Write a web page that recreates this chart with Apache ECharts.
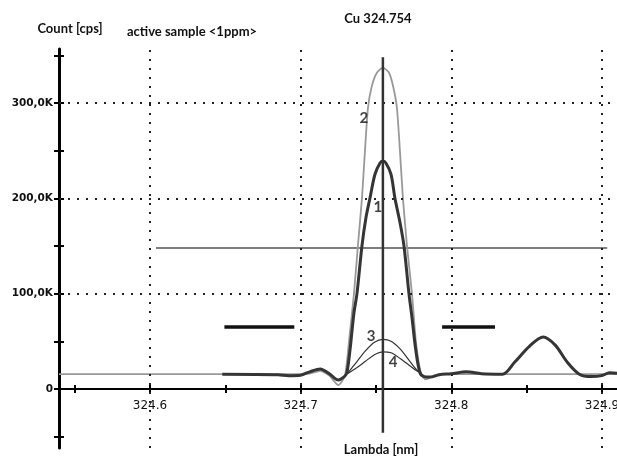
<!DOCTYPE html>
<html>
<head>
<meta charset="utf-8">
<script src="https://cdn.jsdelivr.net/npm/echarts@6/dist/echarts.min.js"></script>
<style>html,body{margin:0;padding:0;background:#fff}#c{width:617px;height:456px}</style>
</head>
<body>
<div id="c"></div>
<script>
// ---- data (x in nm, y in kcps) ----
var xMin = 324.5396, xMax = 324.91;
var yMin = -61900, yMax = 356600;
var xTickValues = [324.55, 324.6, 324.65, 324.7, 324.75, 324.8, 324.85, 324.9];
var xLabelValues = [324.6, 324.7, 324.8, 324.9];
var yTickValues = [-50000, 0, 50000, 100000, 150000, 200000, 250000, 300000, 350000];
var yLabelValues = [0, 100000, 200000, 300000];
var xGridValues = [324.6, 324.7, 324.8, 324.9];
var yGridValues = [100000, 200000, 300000];

// curve 1 (thick dark)
var curve1 = [[324.648,15.5],[324.685,15],[324.692,14],[324.700,14.5],[324.706,18],[324.713,21],[324.719,16],[324.725,9.5],[324.7290,13],[324.7307,17],[324.7327,40],[324.7354,80],[324.7374,100],[324.7407,150],[324.7434,180],[324.7460,200],[324.7493,225],[324.7527,237],[324.7546,239],[324.7566,237],[324.7600,225],[324.7626,200],[324.7659,175],[324.7686,150],[324.7719,100],[324.7739,75],[324.7765,40],[324.7792,17],[324.782,13],[324.786,12.5],[324.792,15],[324.800,16],[324.810,18],[324.820,16],[324.834,15.5],[324.842,28],[324.852,45],[324.861,54.5],[324.869,46],[324.877,28],[324.885,15.5],[324.893,13],[324.900,14],[324.905,17],[324.910,16.5]];
// curve 2 (light gray, tallest)
var curve2 = [[324.5396,15.5],[324.700,15.5],[324.706,16],[324.713,19],[324.719,14],[324.725,4],[324.7294,14],[324.7321,50],[324.7354,100],[324.7380,150],[324.7407,200],[324.7427,250],[324.7447,295],[324.7473,318],[324.7507,332],[324.7546,337],[324.7586,332],[324.7613,318],[324.7639,295],[324.7659,250],[324.7679,200],[324.7706,150],[324.7739,100],[324.7765,50],[324.7799,16],[324.783,10],[324.787,13],[324.792,15.5],[324.910,15.5]];
// curves 3 and 4 (thin)
var curve3 = [[324.731,16],[324.737,28],[324.743,40],[324.749,49],[324.7546,52],[324.760,50],[324.766,42],[324.772,30],[324.777,20],[324.7805,16]];
var curve4 = [[324.731,16],[324.737,22],[324.743,29],[324.749,36],[324.7546,39],[324.760,38],[324.766,32],[324.772,25],[324.777,19],[324.7805,16]];
// reference lines
var limitLine = [[324.604,148],[324.9035,148]];
var bgWindow1 = [[324.6494,65],[324.6958,65]];
var bgWindow2 = [[324.7939,65],[324.829,65]];
var peakMarker = [[324.7546,-46],[324.7546,348]];
// curve numbers
var curveLabels = [['1',324.7513,191],['2',324.742,284],['3',324.7467,55.6],['4',324.7613,28.3]];
var titles = {y: 'Count [cps]', sample: 'active sample <1ppm>', line: 'Cu 324.754', x: 'Lambda [nm]'};

function k(arr){ return arr.map(function(p){ return [p[0], p[1]*1000]; }); }

var chart = echarts.init(document.getElementById('c'), null, {renderer: 'canvas'});
var dotted = {color: '#222', width: 2, type: [2, 7]};

function lineSeries(data, color, width, z, smooth){
  return {type: 'line', data: k(data), showSymbol: false, symbol: 'none', smooth: smooth == null ? 0.3 : smooth,
    lineStyle: {color: color, width: width}, z: z, silent: true, clip: false};
}

var option = {
  animation: false,
  backgroundColor: '#fff',
  grid: {left: 59, right: 0, top: 49, bottom: 8, containLabel: false, outerBoundsMode: 'none'},
  xAxis: [{
    type: 'value', min: xMin, max: xMax, position: 'bottom', offset: 0,
    axisLine: {onZero: false, lineStyle: {color: '#000', width: 2}},
    axisTick: {show: true, length: 4, customValues: xTickValues, lineStyle: {color: '#000', width: 2}},
    axisLabel: {customValues: xLabelValues, color: '#111', fontFamily: 'DejaVu Sans', fontSize: 12, margin: 11,
      formatter: function(v){ return v.toFixed(1); }},
    splitLine: {show: false}
  },{
    type: 'value', min: xMin, max: xMax, position: 'bottom', offset: 0,
    axisLine: {onZero: false, show: false},
    axisTick: {show: true, inside: true, length: 4, customValues: xTickValues, lineStyle: {color: '#000', width: 2}},
    axisLabel: {show: false}, splitLine: {show: false}
  }],
  yAxis: [{
    type: 'value', min: yMin, max: yMax,
    axisLine: {show: true, onZero: false, lineStyle: {color: '#000', width: 3}},
    axisTick: {show: true, length: 5, customValues: yTickValues, lineStyle: {color: '#000', width: 2}},
    axisLabel: {customValues: yLabelValues, color: '#111', fontFamily: 'DejaVu Sans', fontWeight: 'bold', fontSize: 10.5, margin: 6,
      formatter: function(v){ return v === 0 ? '0' : (v/1000).toFixed(1).replace('.', ',') + 'K'; }},
    splitLine: {show: false}
  },{
    type: 'value', min: yMin, max: yMax, position: 'left',
    axisLine: {show: false, onZero: false},
    axisTick: {show: true, inside: true, length: 5, customValues: yTickValues, lineStyle: {color: '#000', width: 2}},
    axisLabel: {show: false}, splitLine: {show: false}
  }],
  series: [
    {type: 'line', data: [], symbol: 'none', silent: true, z: 1,
      markLine: {silent: true, symbol: ['none', 'none'], label: {show: false}, lineStyle: dotted,
        data: xGridValues.map(function(v){ return {xAxis: v}; }).concat(yGridValues.map(function(v){ return {yAxis: v}; }))}},
    lineSeries(limitLine, '#555', 1.5, 2),
    lineSeries(bgWindow1, '#111', 3.5, 2),
    lineSeries(bgWindow2, '#111', 3.5, 2),
    lineSeries(curve2, '#999', 1.8, 3, 0.2),
    lineSeries(curve3, '#333', 1.2, 4),
    lineSeries(curve4, '#333', 1.2, 4),
    lineSeries(curve1, '#353535', 3, 5),
    lineSeries(peakMarker, '#333', 2.5, 6),
    {type: 'scatter', data: curveLabels.map(function(l){ return {value: [l[1], l[2]*1000], name: l[0]}; }),
      symbolSize: 0, silent: true, z: 7,
      label: {show: true, position: 'inside', formatter: function(p){ return p.name; },
        color: '#111', fontFamily: 'Lato', fontWeight: 'bold', fontSize: 15}}
  ],
  graphic: [
    {type: 'text', x: 70, y: 29, style: {text: titles.y, fill: '#111', font: 'bold 13px Lato', textAlign: 'center', textVerticalAlign: 'middle'}},
    {type: 'text', x: 192, y: 32, style: {text: titles.sample, fill: '#111', font: 'bold 13px Lato', textAlign: 'center', textVerticalAlign: 'middle'}},
    {type: 'text', x: 378, y: 19, style: {text: titles.line, fill: '#111', font: 'bold 13px Lato', textAlign: 'center', textVerticalAlign: 'middle'}},
    {type: 'text', x: 381, y: 450, style: {text: titles.x, fill: '#111', font: 'bold 13px Lato', textAlign: 'center', textVerticalAlign: 'middle'}}
  ]
};
chart.setOption(option);
// move the x axes onto the y = 0 line using the library's own scale
var zeroPx = chart.convertToPixel({yAxisIndex: 0}, 0);
var bottomPx = chart.convertToPixel({yAxisIndex: 0}, yMin);
var off = zeroPx - bottomPx;
chart.setOption({xAxis: [{offset: off}, {offset: off}]});
</script>
</body>
</html>
